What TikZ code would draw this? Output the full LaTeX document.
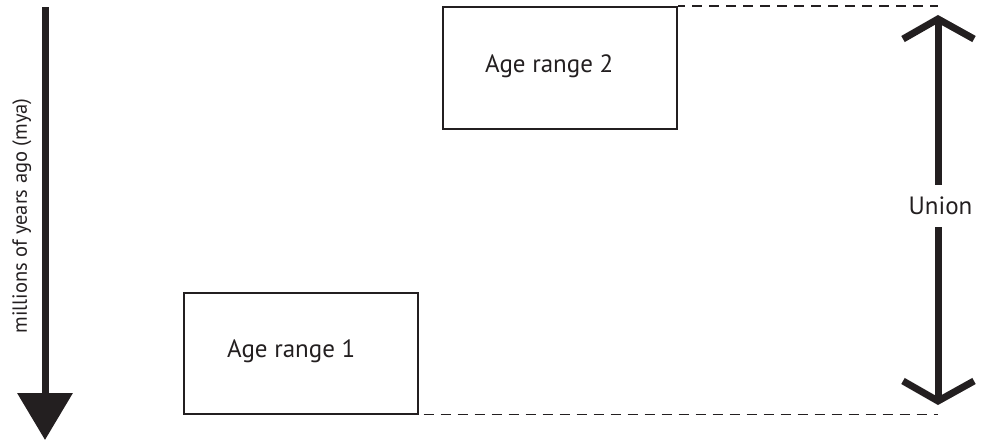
\documentclass[tikz,border=0pt]{standalone}
\usepackage{fontspec}
\setmainfont{PT Sans}
\usetikzlibrary{arrows.meta}
\definecolor{ink}{RGB}{35,31,32}
\tikzset{
  x=1pt, y=-1pt,
  agebox/.style={draw=ink, line width=2pt, rectangle, minimum width=234pt, minimum height=122pt, inner sep=0pt},
  lbl/.style={text=ink, font=\fontsize{25}{30}\selectfont, inner sep=0pt},
  guide/.style={draw=ink, line width=1.8pt, dash pattern=on 10pt off 7pt},
  thick arrow/.style={draw=ink, line width=7pt},
  chevron/.style={draw=ink, line width=7pt, miter limit=10, line join=miter},
}
\begin{document}
\begin{tikzpicture}
\useasboundingbox (0,0) rectangle (986,442);
% time axis
\coordinate (axtop) at (45,7);
\coordinate (axtip) at (45,440);
\draw[thick arrow, -{Triangle[width=54pt,length=47pt]}] (axtop) -- (axtip);
\node[text=ink, font=\fontsize{20.5}{24}\selectfont, inner sep=0pt, rotate=90, anchor=base] (axlbl) at (27,216) {millions of years ago (mya)};
% boxes
\node[agebox] (box2) at (560,68) {};
\node[agebox, minimum height=121pt] (box1) at (300.5,353) {};
\node[lbl, anchor=base west] (t2) at (485,72) {Age range 2};
\node[lbl, anchor=base west] (t1) at (227,357) {Age range 1};
% union
\coordinate (utop) at (938,19);
\coordinate (ubot) at (938,401);
\node[lbl, minimum height=42pt] (union) at (940.5,206) {Union};
\draw[guide, dash phase=3pt] (box2.north east) -- (utop |- box2.north east);
\draw[guide, dash phase=12pt] (box1.south east) -- (ubot |- box1.south east);
\draw[thick arrow] (union.north -| utop) -- (utop);
\draw[thick arrow] (union.south -| ubot) -- (ubot);
\draw[chevron] ([shift={(-35,20)}]utop) -- (utop) -- ([shift={(36,20)}]utop);
\draw[chevron] ([shift={(-35,-20)}]ubot) -- (ubot) -- ([shift={(36,-20)}]ubot);
\end{tikzpicture}
\end{document}
